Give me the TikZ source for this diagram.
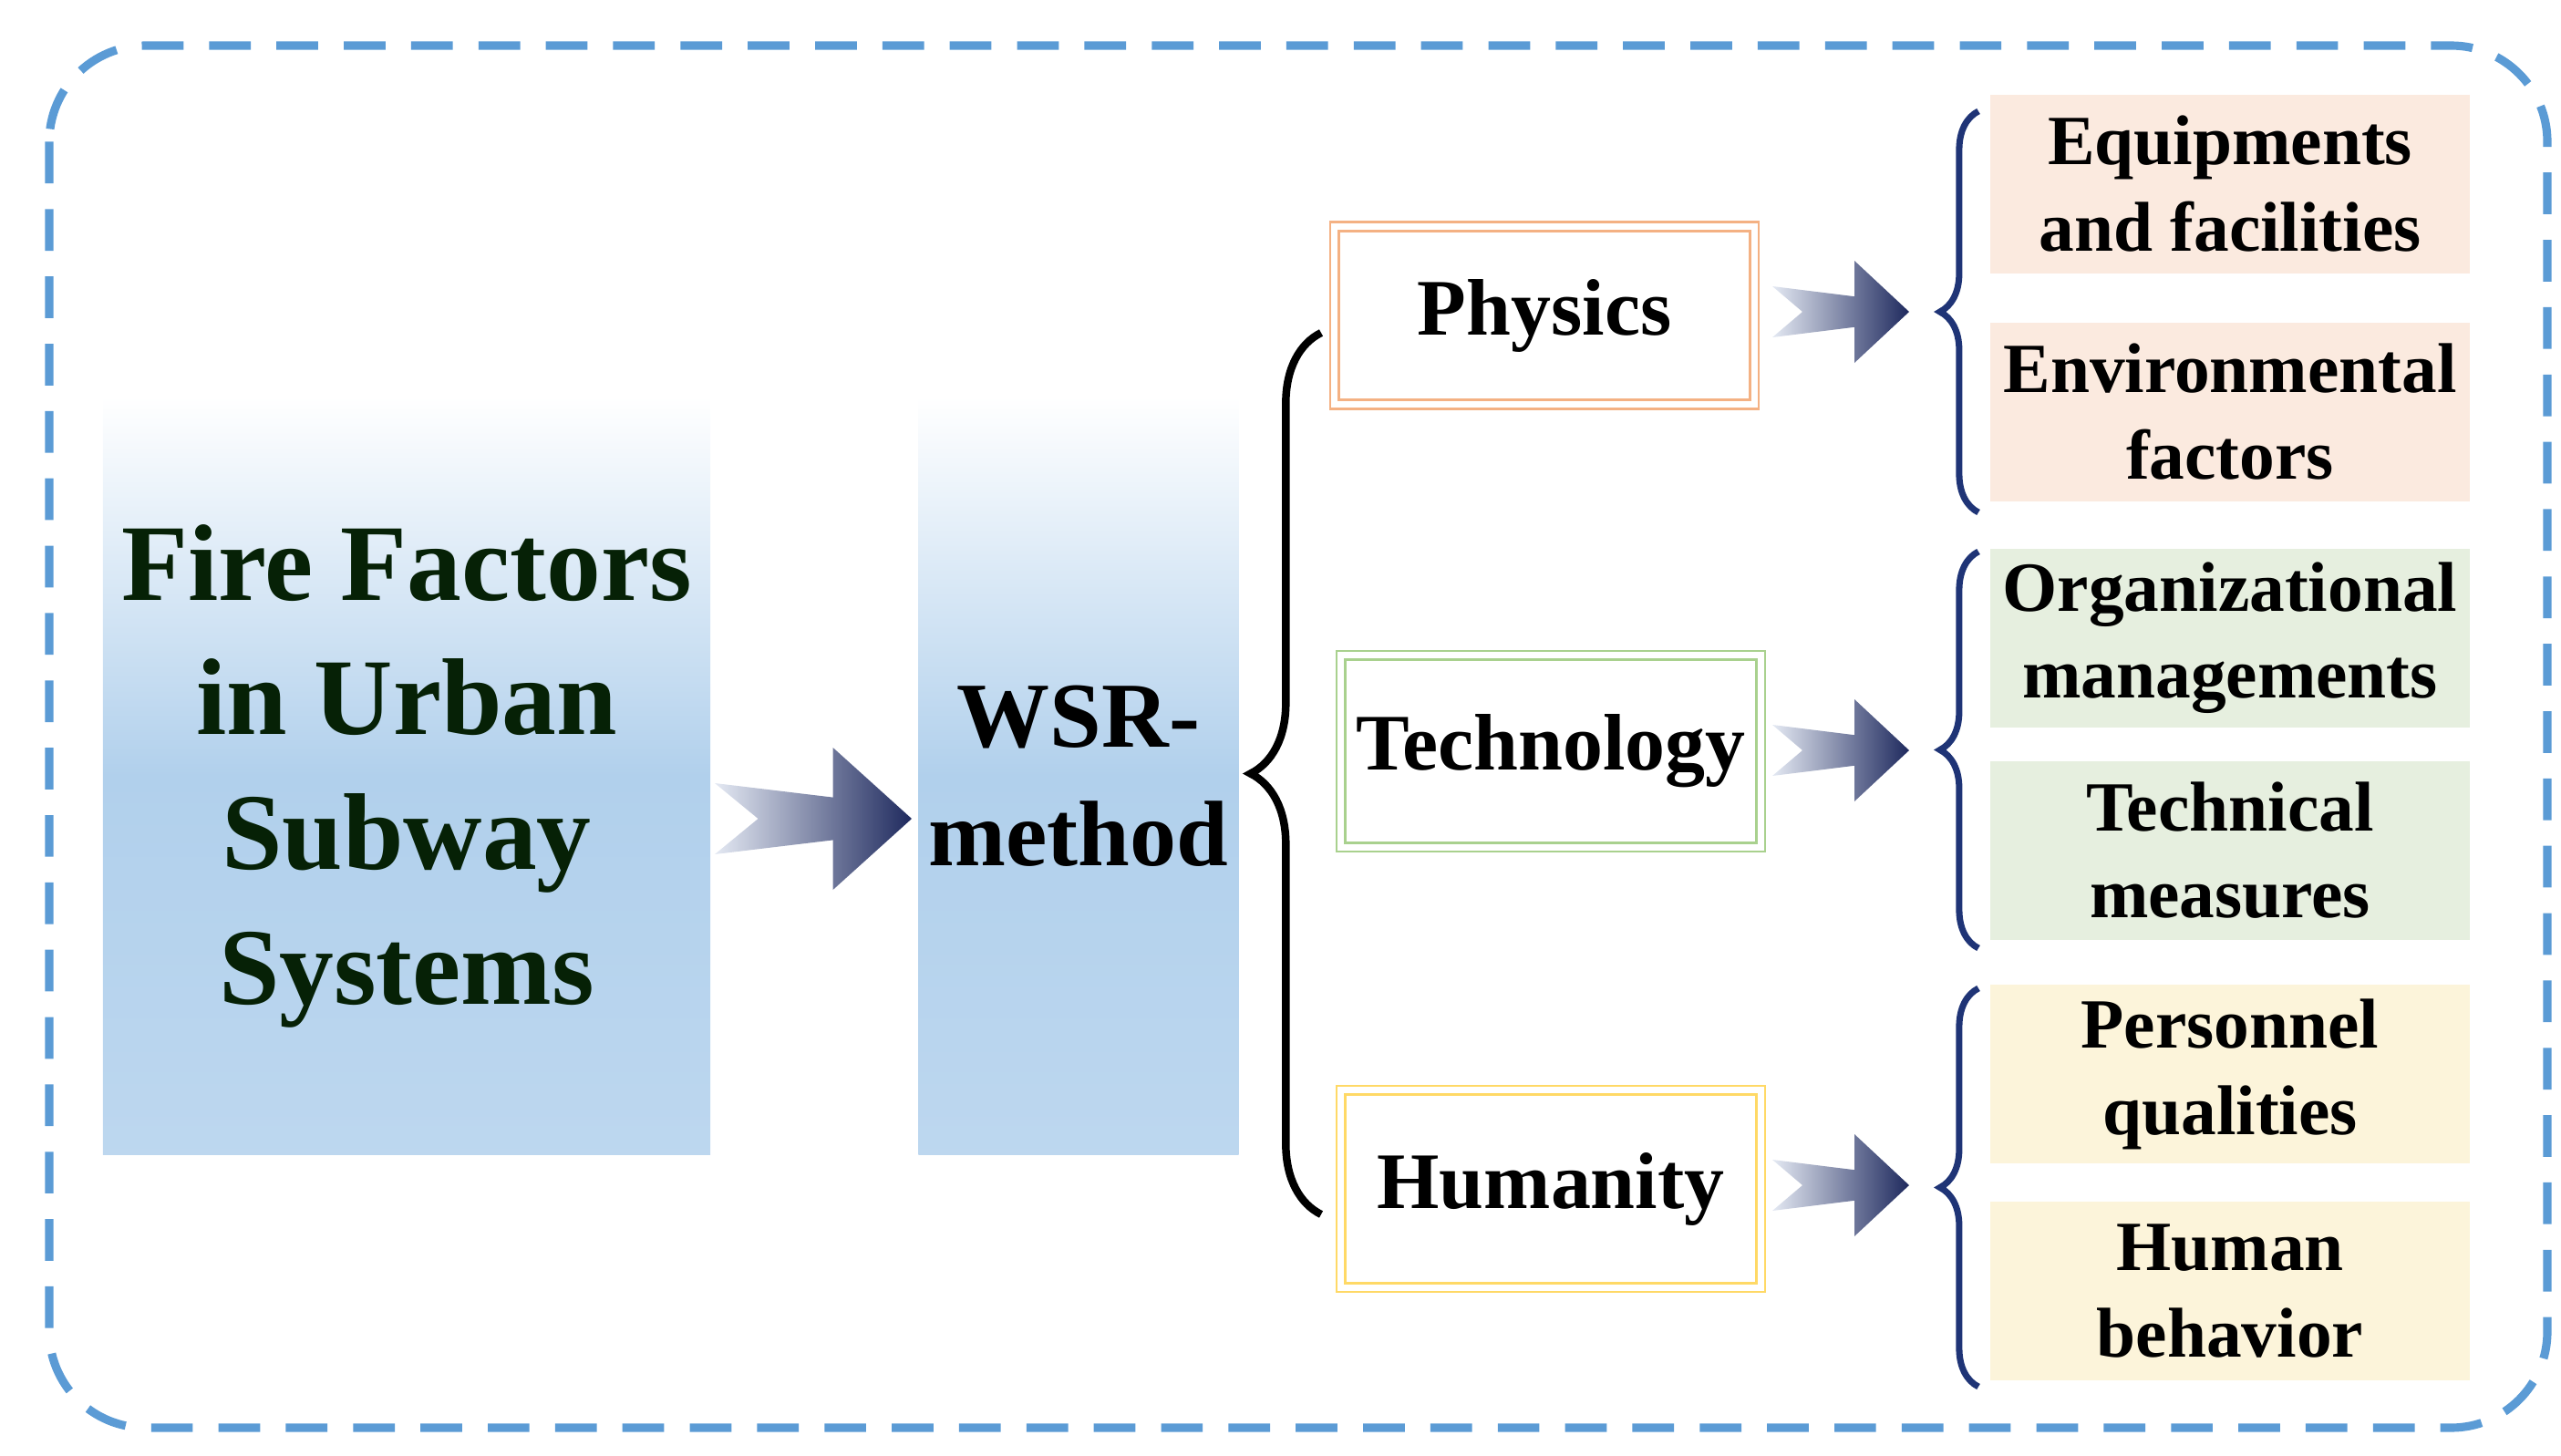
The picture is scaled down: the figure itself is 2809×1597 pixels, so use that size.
\documentclass[tikz,border=0pt]{standalone}
\usepackage{fontspec}
\setmainfont{Liberation Serif}
\usetikzlibrary{decorations.pathreplacing,shadings}

\definecolor{frameblue}{HTML}{5B9BD5}
\definecolor{boxblue}{HTML}{B1D0EC}
\definecolor{arrowdark}{HTML}{1F2A5E}
\definecolor{arrowlight}{HTML}{E4E9F3}
\definecolor{txtgreen}{HTML}{062106}
\definecolor{lineorange}{HTML}{F4B183}
\definecolor{linegreen}{HTML}{A9D18E}
\definecolor{lineyellow}{HTML}{FFD966}
\definecolor{fillorange}{HTML}{FBEADF}
\definecolor{fillgreen}{HTML}{E6EFDF}
\definecolor{fillyellow}{HTML}{FCF4DA}
\definecolor{bracenavy}{HTML}{1F3476}

% fat shaded arrow, #1 = tail x, #2 = centre y, #3 = length, #4 = half height
\newcommand{\fatarrow}[4]{%
  \shade[left color=arrowlight,right color=arrowdark,shading angle=90]
    (#1,#2-0.5*#4) -- (#1+0.22*#3,#2) -- (#1,#2+0.5*#4)
    -- (#1+0.6*#3,#2+0.3*#4) -- (#1+0.6*#3,#2+#4) -- (#1+#3,#2)
    -- (#1+0.6*#3,#2-#4) -- (#1+0.6*#3,#2-0.3*#4) -- cycle;}

\begin{document}
\begin{tikzpicture}[x=0.01cm,y=-0.01cm,font=\bfseries,
  gradbox/.style={rectangle,inner sep=0pt,align=center,
    top color=white,bottom color=boxblue!85,middle color=boxblue},
  catbox/.style={rectangle,double,double distance=2pt,line width=0.8pt,
    fill=white,minimum width=4.6cm,align=center,inner sep=0pt,
    font=\fontsize{25}{30}\selectfont\bfseries},
  itembox/.style={rectangle,minimum width=5.26cm,minimum height=1.95cm,
    align=center,inner sep=0pt,font=\fontsize{22}{27}\selectfont\bfseries},
  navybrace/.style={decorate,decoration={brace,amplitude=12pt},
    draw=bracenavy,line width=2pt}]
  \useasboundingbox (0,0) rectangle (2809,1597);

  \draw[frameblue,line width=2.6pt,dash pattern=on 13pt off 8pt,rounded corners=30pt]
    (54,50) rectangle (2794,1566);

  \node[gradbox,minimum width=6.66cm,minimum height=8.31cm,text=txtgreen,
        font=\fontsize{34}{42}\selectfont\bfseries]
        (fire) at (446,851) {Fire Factors\\in Urban\\Subway\\Systems};
  \node[gradbox,minimum width=3.51cm,minimum height=8.31cm,
        font=\fontsize{29}{37}\selectfont\bfseries]
        (wsr) at (1183,851) {WSR-\\method};

  \fatarrow{784}{898}{216}{78}

  \draw[decorate,decoration={brace,amplitude=22pt},line width=2.4pt]
    (1449,1332) -- (1449,365);

  \node[catbox,draw=lineorange,minimum height=1.95cm] (phys) at (1694,346) {Physics};
  \node[catbox,draw=linegreen,minimum height=2.1cm] (tech) at (1701,824) {Technology};
  \node[catbox,draw=lineyellow,minimum height=2.16cm] (hum) at (1701,1304) {Humanity};

  \foreach \cy in {342,823,1300}{
    \fatarrow{1944}{\cy}{150}{56}
  }

  \draw[navybrace] (2170,562) -- (2170,122);
  \draw[navybrace] (2170,1040) -- (2170,605);
  \draw[navybrace] (2170,1521) -- (2170,1084);

  \node[itembox,fill=fillorange] (equip) at (2446,202) {Equipments\\and facilities};
  \node[itembox,fill=fillorange] (env) at (2446,452) {Environmental\\factors};
  \node[itembox,fill=fillgreen] (org) at (2446,700) {Organizational\\managements};
  \node[itembox,fill=fillgreen] (techm) at (2446,933) {Technical\\measures};
  \node[itembox,fill=fillyellow] (pers) at (2446,1178) {Personnel\\qualities};
  \node[itembox,fill=fillyellow] (behav) at (2446,1416) {Human\\behavior};
\end{tikzpicture}
\end{document}
